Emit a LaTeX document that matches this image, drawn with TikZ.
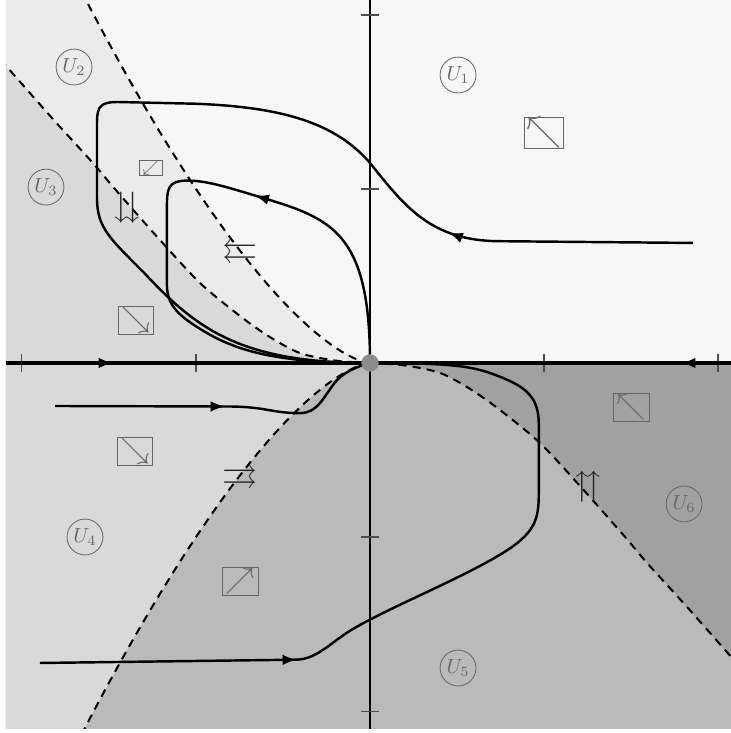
\documentclass[tikz,border=0pt]{standalone}
\usepackage{amssymb}
\usetikzlibrary{arrows.meta,decorations.markings}
\colorlet{regA}{black!3}
\colorlet{regB}{black!8}
\colorlet{regC}{black!15}
\colorlet{regD}{black!15}
\colorlet{regE}{black!27}
\colorlet{regF}{black!37}
\begin{document}
\begin{tikzpicture}[x=3cm,y=3cm,
  traj/.style={line width=1.2pt},
  xaxis/.style={line width=1.8pt},
  sepline/.style={line width=1pt, dash pattern=on 4pt off 3pt},
  tick/.style={black!70, line width=0.5pt},
  ulab/.style={circle, draw=black!60, text=black!60, inner sep=0.5pt, minimum size=17.6pt},
  dirbox/.style={draw=black!60, text=black!60, inner sep=0pt, minimum width=17.6pt, minimum height=13.7pt, font=\Large},
  flow/.style={text=black!85, font=\LARGE, inner sep=0pt},
  marr/.style={postaction={decorate}, decoration={markings, mark=at position #1 with {\arrow{Latex[length=7pt,width=5.2pt]}}}},
  eqpt/.style={circle, fill=black!45, inner sep=0pt, minimum size=8.5pt}]
  \useasboundingbox (-2.1264,-2.1264) rectangle (2.0747,2.0862);
  \coordinate (sw) at (-2.092,-2.103);
  \coordinate (ne) at (2.075,2.086);
  \coordinate (o) at (0,0);
  \coordinate (xl) at (-2.092,0);
  \coordinate (xr) at (2.075,0);
  \coordinate (yb) at (0,-2.103);
  \coordinate (yt) at (0,2.086);

  % regions and their borders
  \begin{scope}
    \clip (sw) rectangle (ne);
    \fill[regA] (sw) rectangle (ne);
    \fill[regB] (o) -- plot[domain=0:1.3, samples=40] ({-\x*\x},{\x*\x*\x}) -- (-2.2,2.2) -- (-2.2,0) -- cycle;
    \fill[regC] plot[smooth] coordinates {(0,0) (-0.2,0.014) (-0.402,0.057) (-0.575,0.149) (-0.747,0.27) (-0.977,0.46) (-1.207,0.707) (-1.466,1.0) (-1.592,1.149) (-1.822,1.402) (-2.086,1.701) (-2.2,1.83)} -- (-2.2,0) -- cycle;
    \fill[regE] (-2.2,0) rectangle (2.2,-2.2);
    \fill[regD] (o) -- plot[domain=0:1.3, samples=40] ({-\x*\x},{-\x*\x*\x}) -- (-2.2,-2.2) -- (-2.2,0) -- cycle;
    \fill[regF] plot[smooth] coordinates {(0,0) (0.2,-0.014) (0.402,-0.057) (0.575,-0.149) (0.747,-0.27) (0.977,-0.46) (1.207,-0.707) (1.466,-1.0) (1.592,-1.149) (1.822,-1.402) (2.086,-1.701) (2.2,-1.83)} -- (2.2,0) -- cycle;
    \draw[sepline] (o) -- plot[domain=0:1.3, samples=40] ({-\x*\x},{\x*\x*\x});
    \draw[sepline] (o) -- plot[domain=0:1.3, samples=40] ({-\x*\x},{-\x*\x*\x});
    \draw[sepline] plot[smooth] coordinates {(0,0) (-0.2,0.014) (-0.402,0.057) (-0.575,0.149) (-0.747,0.27) (-0.977,0.46) (-1.207,0.707) (-1.466,1.0) (-1.592,1.149) (-1.822,1.402) (-2.086,1.701) (-2.2,1.83)};
    \draw[sepline] plot[smooth] coordinates {(0,0) (0.2,-0.014) (0.402,-0.057) (0.575,-0.149) (0.747,-0.27) (0.977,-0.46) (1.207,-0.707) (1.466,-1.0) (1.592,-1.149) (1.822,-1.402) (2.086,-1.701) (2.2,-1.83)};
  \end{scope}

  % axes
  \draw[line width=1.2pt] (yb) -- (yt);
  \foreach \p in {-2,-1,1,2} {
    \draw[tick] (\p,-0.05) -- (\p,0.05);
    \draw[tick] (-0.05,\p) -- (0.05,\p);
  }
  \draw[xaxis, marr=1.845cm] (xl) -- (o);
  \draw[xaxis, marr=0.86cm] (xr) -- (o);

  % orbits
  \draw[traj, marr=4.23cm] (1.856,0.69) -- (0.75,0.70)
    .. controls (0.35,0.70) and (0.2,0.9) .. (0,1.15)
    .. controls (-0.2,1.38) and (-0.5,1.47) .. (-1.0,1.49)
    -- (-1.45,1.5) .. controls (-1.569,1.5) and (-1.569,1.46) .. (-1.569,1.35)
    -- (-1.569,0.95) .. controls (-1.569,0.78) and (-1.5,0.72) .. (-1.3,0.52)
    .. controls (-1.0,0.2) and (-0.75,0.0) .. (o);
  \draw[traj, marr=3.94cm] (o) .. controls (0,0.75) and (-0.22,0.83) .. (-0.62,0.95)
    .. controls (-0.85,1.02) and (-0.95,1.05) .. (-1.06,1.048)
    .. controls (-1.16,1.046) and (-1.167,1.0) .. (-1.167,0.9)
    -- (-1.167,0.45) .. controls (-1.167,0.33) and (-1.1,0.27) .. (-0.95,0.18)
    .. controls (-0.75,0.06) and (-0.5,0) .. (o);
  \draw[traj, marr=2.93cm] (-1.81,-0.247) -- (-0.8,-0.25)
    .. controls (-0.6,-0.252) and (-0.55,-0.29) .. (-0.4,-0.288)
    .. controls (-0.3,-0.286) and (-0.27,-0.2) .. (-0.2,-0.11)
    .. controls (-0.16,-0.06) and (-0.08,-0.02) .. (o);
  \draw[traj, marr=4.43cm] (-1.897,-1.724) -- (-0.42,-1.705)
    .. controls (-0.3,-1.70) and (-0.22,-1.6) .. (-0.1,-1.53)
    .. controls (0.1,-1.41) and (0.5,-1.25) .. (0.75,-1.1)
    .. controls (0.95,-0.98) and (0.97,-0.9) .. (0.97,-0.75)
    -- (0.97,-0.35) .. controls (0.97,-0.2) and (0.9,-0.14) .. (0.75,-0.08)
    .. controls (0.6,-0.02) and (0.5,0) .. (o);

  \node[eqpt] (eq) at (o) {};

  % region names
  \node[ulab] (u1) at (0.506,1.655) {$U_1$};
  \node[ulab] (u2) at (-1.701,1.701) {$U_2$};
  \node[ulab] (u3) at (-1.862,1.011) {$U_3$};
  \node[ulab] (u4) at (-1.638,-1.0) {$U_4$};
  \node[ulab] (u5) at (0.506,-1.753) {$U_5$};
  \node[ulab] (u6) at (1.805,-0.810) {$U_6$};

  % directions of the field
  \node[dirbox, minimum width=19.1pt, minimum height=15.2pt, font=\LARGE] (d1) at (1.0,1.322) {$\nwarrow$};
  \node[dirbox, minimum width=11.3pt, minimum height=7.8pt, font=\footnotesize] (d2) at (-1.259,1.121) {$\swarrow$};
  \node[dirbox] (d3) at (-1.345,0.247) {$\searrow$};
  \node[dirbox] (d4) at (-1.351,-0.506) {$\searrow$};
  \node[dirbox] (d5) at (-0.747,-1.253) {$\nearrow$};
  \node[dirbox] (d6) at (1.5,-0.253) {$\nwarrow$};

  \node[flow] (f2) at (-1.397,0.891) {$\downdownarrows$};
  \node[flow] (f3) at (-0.747,0.638) {$\leftleftarrows$};
  \node[flow] (f4) at (-0.747,-0.655) {$\rightrightarrows$};
  \node[flow] (f5) at (1.253,-0.713) {$\upuparrows$};
\end{tikzpicture}
\end{document}
